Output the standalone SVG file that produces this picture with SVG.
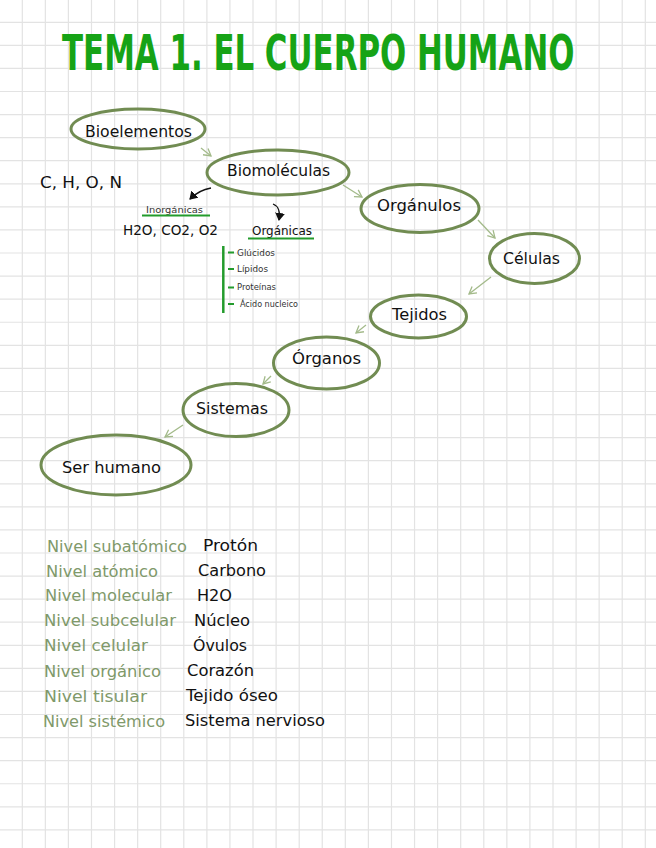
<svg xmlns="http://www.w3.org/2000/svg" width="656" height="848" viewBox="0 0 656 848">
<defs>
<style>
.grid{stroke:#e3e3e3;stroke-width:1.2;fill:none}
.node{fill:none;stroke:#718c52;stroke-width:3}
.lbl{font-family:"DejaVu Sans","Liberation Sans",sans-serif;font-size:16px;fill:#111}
.small{font-family:"DejaVu Sans","Liberation Sans",sans-serif;fill:#333}
.lvl{font-family:"DejaVu Sans","Liberation Sans",sans-serif;font-size:16px;fill:#80996a}
.ex{font-family:"DejaVu Sans","Liberation Sans",sans-serif;font-size:16px;fill:#111}
.conn{stroke:#a3ba8a;stroke-width:1.3;fill:none}
.blk{stroke:#111;stroke-width:1.3;fill:none}
.gl{stroke:#239b2c;fill:none}
</style>
<marker id="open" markerWidth="10" markerHeight="10" refX="8" refY="5" orient="auto" markerUnits="userSpaceOnUse">
<path d="M1,1 L8,5 L1,9" fill="none" stroke="#a3ba8a" stroke-width="1.3"/>
</marker>
<marker id="solid" markerWidth="10" markerHeight="10" refX="7" refY="5" orient="auto" markerUnits="userSpaceOnUse">
<path d="M0,0 L8,5 L0,10 Z" fill="#111"/>
</marker>
</defs>
<rect width="656" height="848" fill="#ffffff"/>
<path class="grid" d="M22.3 0V848M45.35 0V848M68.4 0V848M91.5 0V848M114.6 0V848M137.65 0V848M160.7 0V848M183.8 0V848M206.9 0V848M229.95 0V848M253 0V848M276.1 0V848M299.2 0V848M322.25 0V848M345.3 0V848M368.4 0V848M391.5 0V848M414.55 0V848M437.6 0V848M460.7 0V848M483.8 0V848M506.85 0V848M529.9 0V848M553 0V848M576.1 0V848M599.15 0V848M622.2 0V848M645.3 0V848
M0 22.3H656M0 45.35H656M0 68.4H656M0 91.5H656M0 114.6H656M0 137.65H656M0 160.7H656M0 183.8H656M0 206.9H656M0 229.95H656M0 253H656M0 276.1H656M0 299.2H656M0 322.25H656M0 345.3H656M0 368.4H656M0 391.5H656M0 414.55H656M0 437.6H656M0 460.7H656M0 483.8H656M0 506.85H656M0 529.9H656M0 553H656M0 576.1H656M0 599.15H656M0 622.2H656M0 645.3H656M0 668.4H656M0 691.45H656M0 714.5H656M0 737.6H656M0 760.7H656M0 783.75H656M0 806.8H656M0 829.9H656"/>

<g id="title" transform="translate(62,70) scale(1,1.44)">
<text x="0" y="0" font-family="DejaVu Sans Condensed,DejaVu Sans,sans-serif" font-stretch="condensed" font-weight="bold" font-size="34.3" fill="#16a316">TEMA 1. EL CUERPO HUMANO</text>
</g>

<g id="connectors">
<path class="conn" d="M201,148 L211,156" marker-end="url(#open)"/>
<path class="conn" d="M343,185 L362,197" marker-end="url(#open)"/>
<path class="conn" d="M478,220 L495,238" marker-end="url(#open)"/>
<path class="conn" d="M491,277 L469,294" marker-end="url(#open)"/>
<path class="conn" d="M366,325 L356,333" marker-end="url(#open)"/>
<path class="conn" d="M271,376 L263,384" marker-end="url(#open)"/>
<path class="conn" d="M183,425 L165,437" marker-end="url(#open)"/>
<path class="blk" d="M211,188 Q199,190 190,199" marker-end="url(#solid)"/>
<path class="blk" d="M273,204 Q281,207 279,220" marker-end="url(#solid)"/>
</g>

<g id="bioelementos">
<ellipse class="node" cx="138" cy="129" rx="67" ry="20"/>
<text class="lbl" x="85" y="137" textLength="107" lengthAdjust="spacingAndGlyphs">Bioelementos</text>
</g>
<g id="biomoleculas">
<ellipse class="node" cx="278" cy="172.5" rx="71" ry="22.5"/>
<text class="lbl" x="227" y="176" textLength="103" lengthAdjust="spacingAndGlyphs">Biomoléculas</text>
</g>
<g id="organulos">
<ellipse class="node" cx="420" cy="208.5" rx="59" ry="24"/>
<text class="lbl" x="377" y="211" textLength="84" lengthAdjust="spacingAndGlyphs">Orgánulos</text>
</g>
<g id="celulas">
<ellipse class="node" cx="534.5" cy="258.5" rx="45" ry="25"/>
<text class="lbl" x="503" y="264" textLength="57" lengthAdjust="spacingAndGlyphs">Células</text>
</g>
<g id="tejidos">
<ellipse class="node" cx="418.5" cy="316.5" rx="48" ry="21.5"/>
<text class="lbl" x="392" y="320" textLength="55" lengthAdjust="spacingAndGlyphs">Tejidos</text>
</g>
<g id="organos">
<ellipse class="node" cx="326.5" cy="363" rx="53" ry="26"/>
<text class="lbl" x="292" y="364" textLength="69" lengthAdjust="spacingAndGlyphs">Órganos</text>
</g>
<g id="sistemas">
<ellipse class="node" cx="236" cy="410" rx="53" ry="26.5"/>
<text class="lbl" x="196" y="414" textLength="72" lengthAdjust="spacingAndGlyphs">Sistemas</text>
</g>
<g id="ser-humano">
<ellipse class="node" cx="116" cy="465" rx="75" ry="30"/>
<text class="lbl" x="62" y="473" textLength="99" lengthAdjust="spacingAndGlyphs">Ser humano</text>
</g>

<g id="elementos">
<text class="lbl" x="40" y="188" textLength="82" lengthAdjust="spacingAndGlyphs">C, H, O, N</text>
</g>

<g id="inorganicas">
<text class="small" x="146" y="213" font-size="9" textLength="57" lengthAdjust="spacingAndGlyphs">Inorgánicas</text>
<path class="gl" stroke-width="2" d="M142,215.5 H210"/>
<text class="lbl" x="123" y="235" textLength="95" lengthAdjust="spacingAndGlyphs" style="font-size:14px">H2O, CO2, O2</text>
</g>

<g id="organicas">
<text class="lbl" x="252" y="235" textLength="60" lengthAdjust="spacingAndGlyphs" style="font-size:12px">Orgánicas</text>
<path class="gl" stroke-width="2" d="M248,238.5 H314"/>
<path class="gl" stroke-width="2.5" d="M223.3,246 V313"/>
<path class="gl" stroke-width="2" d="M228,252.5 H234 M228,269 H234 M228,287.5 H234 M228,304 H234"/>
<text class="small" x="237" y="256" font-size="8.5" textLength="38" lengthAdjust="spacingAndGlyphs">Glúcidos</text>
<text class="small" x="237" y="272" font-size="8.5" textLength="31" lengthAdjust="spacingAndGlyphs">Lípidos</text>
<text class="small" x="237" y="290" font-size="8.5" textLength="39" lengthAdjust="spacingAndGlyphs">Proteínas</text>
<text class="small" x="240" y="307" font-size="8.5" textLength="58" lengthAdjust="spacingAndGlyphs">Ácido nucleico</text>
</g>

<g id="niveles">
<text class="lvl" x="47" y="552" textLength="140" lengthAdjust="spacingAndGlyphs">Nivel subatómico</text>
<text class="lvl" x="46" y="577" textLength="112" lengthAdjust="spacingAndGlyphs">Nivel atómico</text>
<text class="lvl" x="45" y="601" textLength="127" lengthAdjust="spacingAndGlyphs">Nivel molecular</text>
<text class="lvl" x="44" y="626" textLength="132" lengthAdjust="spacingAndGlyphs">Nivel subcelular</text>
<text class="lvl" x="44" y="651" textLength="104" lengthAdjust="spacingAndGlyphs">Nivel celular</text>
<text class="lvl" x="44" y="677" textLength="117" lengthAdjust="spacingAndGlyphs">Nivel orgánico</text>
<text class="lvl" x="44" y="702" textLength="103" lengthAdjust="spacingAndGlyphs">Nivel tisular</text>
<text class="lvl" x="43" y="727" textLength="122" lengthAdjust="spacingAndGlyphs">Nivel sistémico</text>
<text class="ex" x="203" y="551" textLength="55" lengthAdjust="spacingAndGlyphs">Protón</text>
<text class="ex" x="198" y="576" textLength="68" lengthAdjust="spacingAndGlyphs">Carbono</text>
<text class="ex" x="197" y="601" textLength="35" lengthAdjust="spacingAndGlyphs">H2O</text>
<text class="ex" x="194" y="626" textLength="56" lengthAdjust="spacingAndGlyphs">Núcleo</text>
<text class="ex" x="193" y="651" textLength="54" lengthAdjust="spacingAndGlyphs">Óvulos</text>
<text class="ex" x="187" y="676" textLength="67" lengthAdjust="spacingAndGlyphs">Corazón</text>
<text class="ex" x="186" y="701" textLength="92" lengthAdjust="spacingAndGlyphs">Tejido óseo</text>
<text class="ex" x="185" y="726" textLength="140" lengthAdjust="spacingAndGlyphs">Sistema nervioso</text>
</g>
</svg>
